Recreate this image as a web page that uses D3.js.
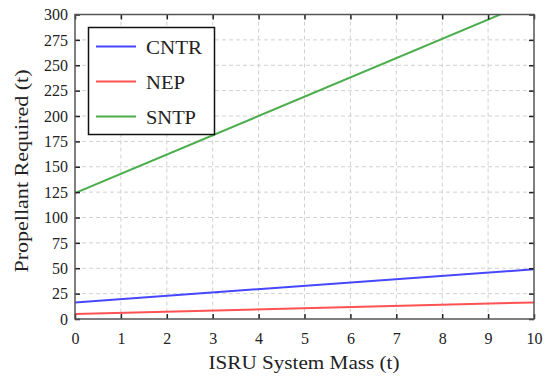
<!DOCTYPE html>
<html><head><meta charset="utf-8">
<script src="https://cdn.jsdelivr.net/npm/d3@7"></script>
<style>body{margin:0;background:#fff}svg{display:block}</style>
</head><body>
<svg id="c" width="548" height="378"></svg>
<script>
const seriesNames = ["CNTR", "NEP", "SNTP"];
const seriesColors = ["#4747ff", "#ff5252", "#4cad4c"];
const massX = [0, 10];
const cntrY = [16.3, 49];
const nepY = [5, 16.3];
const sntpY = [124, 314];
const xTicks = [0,1,2,3,4,5,6,7,8,9,10];
const yTicks = [0,25,50,75,100,125,150,175,200,225,250,275,300];

const svg = d3.select("#c");
const L = 75, R = 534, T = 14.5, B = 319;
const x = d3.scaleLinear().domain([0,10]).range([L,R]);
const y = d3.scaleLinear().domain([0,300]).range([B,T]);
const font = "Liberation Serif, Times New Roman, serif";

// grid
const g = svg.append("g");
g.selectAll(".vx").data(xTicks.slice(1,-1)).enter().append("line")
  .attr("x1",d=>x(d)).attr("x2",d=>x(d)).attr("y1",T).attr("y2",B)
  .attr("stroke","#d0d0d0").attr("stroke-width",1).attr("stroke-dasharray","4,3");
g.selectAll(".hy").data(yTicks.slice(1,-1)).enter().append("line")
  .attr("y1",d=>y(d)).attr("y2",d=>y(d)).attr("x1",L).attr("x2",R)
  .attr("stroke","#d0d0d0").attr("stroke-width",1).attr("stroke-dasharray","4,3");

// clip
svg.append("clipPath").attr("id","clip").append("rect")
  .attr("x",L).attr("y",T).attr("width",R-L).attr("height",B-T);

const data = [cntrY, nepY, sntpY];
const line = d3.line().x(d=>x(d[0])).y(d=>y(d[1]));
data.forEach((s,i)=>{
  svg.append("path").attr("clip-path","url(#clip)")
    .attr("d", line(massX.map((m,j)=>[m,s[j]])))
    .attr("fill","none").attr("stroke",seriesColors[i]).attr("stroke-width",2);
});

// axes with inward ticks
const axB = d3.axisBottom(x).tickValues(xTicks).tickSize(-5).tickPadding(14).tickFormat(d3.format("d"));
const axL = d3.axisLeft(y).tickValues(yTicks).tickSize(-5).tickPadding(7).tickFormat(d3.format("d"));
const axT = d3.axisTop(x).tickValues(xTicks).tickSize(-5).tickFormat("");
const axR = d3.axisRight(y).tickValues(yTicks).tickSize(-5).tickFormat("");
function style(sel){
  sel.select(".domain").remove();
  sel.selectAll(".tick line").attr("stroke","#222").attr("stroke-width",1.5);
  sel.selectAll("text").attr("font-family",font).attr("font-size",16).attr("fill","#222");
}
svg.append("g").attr("transform",`translate(0,${B})`).call(axB).call(style);
svg.append("g").attr("transform",`translate(${L},0)`).call(axL).call(style);
svg.append("g").attr("transform",`translate(0,${T})`).call(axT).call(style);
svg.append("g").attr("transform",`translate(${R},0)`).call(axR).call(style);

svg.append("rect").attr("x",L).attr("y",T).attr("width",R-L).attr("height",B-T)
  .attr("fill","none").attr("stroke","#555").attr("stroke-width",1.5);

// titles
svg.append("text").attr("x",304).attr("y",369).attr("text-anchor","middle")
  .attr("font-family",font).attr("font-size",19).attr("fill","#222")
  .attr("textLength",191).attr("lengthAdjust","spacingAndGlyphs").text("ISRU System Mass (t)");
svg.append("text").attr("transform",`translate(28,171) rotate(-90)`).attr("text-anchor","middle")
  .attr("font-family",font).attr("font-size",19).attr("fill","#222")
  .attr("textLength",203).attr("lengthAdjust","spacingAndGlyphs").text("Propellant Required (t)");

// legend
const legendWidths = [56, 39, 50];
const lg = svg.append("g");
lg.append("rect").attr("x",88.5).attr("y",27.5).attr("width",126).attr("height",107)
  .attr("fill","#fff").attr("stroke","#111").attr("stroke-width",1.5);
seriesNames.forEach((n,i)=>{
  const yy = 46.5 + i*35;
  lg.append("line").attr("x1",96).attr("x2",136).attr("y1",yy).attr("y2",yy)
    .attr("stroke",seriesColors[i]).attr("stroke-width",2);
  lg.append("text").attr("x",146).attr("y",yy+7).attr("font-family",font).attr("font-size",19)
    .attr("textLength",legendWidths[i]).attr("lengthAdjust","spacingAndGlyphs")
    .attr("fill","#222").text(n);
});
</script>
</body></html>
